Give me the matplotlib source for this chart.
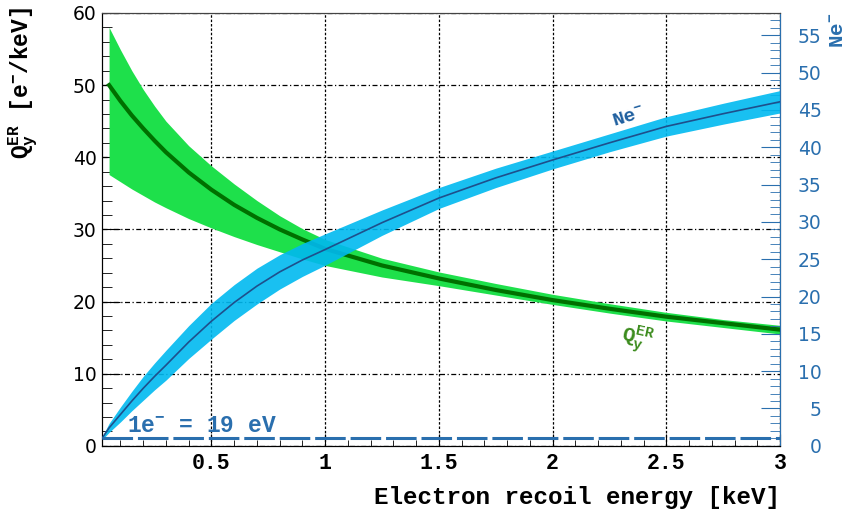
import numpy as np
import matplotlib.pyplot as plt
from matplotlib.ticker import MultipleLocator

plt.rcParams['mathtext.fontset'] = 'custom'
plt.rcParams['mathtext.rm'] = 'Liberation Mono:bold'
plt.rcParams['mathtext.it'] = 'Liberation Mono:bold'
plt.rcParams['mathtext.bf'] = 'Liberation Mono:bold'

# data
# Q_y^ER (left axis, e-/keV)
e_qy = [0.05, 0.1, 0.15, 0.2, 0.25, 0.3, 0.4, 0.5, 0.6, 0.7, 0.8, 0.9, 1.0,
        1.25, 1.5, 1.75, 2.0, 2.25, 2.5, 2.75, 3.0]
qy_mid = [50.0, 47.8, 45.8, 44.0, 42.3, 40.7, 37.9, 35.5, 33.4, 31.6, 30.0, 28.6, 27.3,
          25.0, 23.2, 21.6, 20.2, 19.0, 17.9, 17.0, 16.1]
qy_hi = [58.0, 54.9, 52.0, 49.4, 47.1, 45.0, 41.6, 38.8, 36.3, 34.0, 31.9, 30.1, 28.6,
         26.0, 24.1, 22.5, 21.0, 19.7, 18.5, 17.5, 16.7]
qy_lo = [37.6, 36.6, 35.6, 34.7, 33.8, 33.0, 31.5, 30.2, 29.0, 27.9, 26.9, 25.9, 25.0,
         23.4, 22.2, 20.9, 19.6, 18.4, 17.3, 16.4, 15.5]

# Ne- (right axis)
e_ne = [0.019, 0.05, 0.1, 0.15, 0.2, 0.25, 0.3, 0.4, 0.5, 0.6, 0.7, 0.8, 0.9, 1.0,
        1.25, 1.5, 1.75, 2.0, 2.25, 2.5, 2.75, 3.0]
ne_mid = [1.0, 2.4, 4.2, 6.0, 7.7, 9.3, 10.8, 13.9, 16.7, 19.2, 21.4, 23.3, 24.9, 26.3,
          29.9, 33.2, 35.9, 38.3, 40.6, 42.8, 44.5, 46.1]
ne_err = [0.2, 0.6, 1.0, 1.3, 1.6, 1.8, 2.0, 2.2, 2.4, 2.4, 2.4, 2.3, 2.2, 2.1,
          1.7, 1.4, 1.3, 1.2, 1.2, 1.3, 1.4, 1.5]

ne_single = 1.0   # 1e- = 19 eV

blue = '#2a6fae'
mono = 'Liberation Mono'

e_ne = np.array(e_ne)
ne_mid = np.array(ne_mid)
ne_err = np.array(ne_err)

fig = plt.figure(figsize=(8.46, 5.13), dpi=100)
ax = fig.add_axes([0.1206, 0.131, 0.8014, 0.8437])
ax2 = ax.twinx()

ax.fill_between(e_qy, qy_lo, qy_hi, color='#1ee04b', lw=0, zorder=2)
ax.plot(e_qy, qy_mid, color='#007000', lw=3, zorder=3)

ax2.fill_between(e_ne, ne_mid - ne_err, ne_mid + ne_err, color='#00b9f0', lw=0, alpha=0.9, zorder=2)
ax2.plot(e_ne, ne_mid, color='#1e508c', lw=1.2, zorder=3)
ax2.axhline(ne_single, color=blue, lw=2.2, dashes=(10, 1.6), zorder=4)

ax.set_xlim(0.019, 3)
ax.set_ylim(0, 60)
ax2.set_ylim(0, 58)

ax.xaxis.set_major_locator(MultipleLocator(0.5))
ax.xaxis.set_minor_locator(MultipleLocator(0.1))
ax.yaxis.set_major_locator(MultipleLocator(10))
ax.yaxis.set_minor_locator(MultipleLocator(2))
ax2.yaxis.set_major_locator(MultipleLocator(5))
ax2.yaxis.set_minor_locator(MultipleLocator(1))

ax.set_xticks([0.5, 1, 1.5, 2, 2.5, 3])
ax.set_xticklabels(['0.5', '1', '1.5', '2', '2.5', '3'])

ax.tick_params(axis='x', which='both', direction='in', top=False, pad=5)
ax.tick_params(axis='x', which='major', length=9)
ax.tick_params(axis='x', which='minor', length=4.5)
ax.tick_params(axis='y', which='both', direction='in', right=False, pad=4)
ax.tick_params(axis='y', which='major', length=13)
ax.tick_params(axis='y', which='minor', length=7)
ax2.tick_params(axis='y', which='both', direction='in', color=blue, labelcolor=blue, pad=30)
ax2.tick_params(axis='y', which='major', length=14)
ax2.tick_params(axis='y', which='minor', length=7)

for lab in ax.get_xticklabels():
    lab.set_fontfamily(mono)
    lab.set_fontweight('bold')
    lab.set_fontsize(15.5)
for lab in ax.get_yticklabels():
    lab.set_fontfamily('DejaVu Sans')
    lab.set_fontsize(13.5)
for lab in ax2.get_yticklabels():
    lab.set_fontfamily('DejaVu Sans')
    lab.set_fontsize(13.5)
    lab.set_horizontalalignment('right')

ax.xaxis.grid(True, color='black', lw=0.9, ls=(0, (2, 1.5)))
ax.yaxis.grid(True, color='black', lw=0.9, ls=(0, (4, 2, 1, 2)))
ax.set_axisbelow(True)

ax2.spines['right'].set_color(blue)
ax.spines['top'].set_color('#444444')
ax2.spines['top'].set_color('#444444')

fig.text(0.922, 0.031, 'Electron recoil energy [keV]', ha='right', va='center',
         family=mono, weight='bold', fontsize=17.5)
fig.text(0.028, 0.986, r'$\mathrm{Q}_\mathrm{y}^\mathrm{ER}$ [e$^{\mathrm{-}}$/keV]',
         rotation=90, ha='center', va='top', family=mono, weight='bold', fontsize=16.5)
fig.text(0.99, 0.975, r'Ne$^{\mathrm{-}}$', rotation=90, ha='center', va='top',
         family=mono, weight='bold', fontsize=15, color=blue)

ax2.text(2.334, 44.0, r'Ne$^{\mathrm{-}}$', rotation=17, ha='center', va='center',
         family=mono, weight='bold', fontsize=14, color='#1f5f9f')
ax.text(2.37, 14.6, r'$\mathrm{Q}_\mathrm{y}^\mathrm{ER}$', rotation=-12, ha='center', va='center',
        family=mono, weight='bold', fontsize=15, color='#3c8c1e')
ax2.text(0.127, 1.8, r'1e$^{\mathrm{-}}$ = 19 eV', ha='left', va='baseline',
         family=mono, weight='bold', fontsize=16.5, color=blue)

fig.savefig('out.png', dpi=100)
